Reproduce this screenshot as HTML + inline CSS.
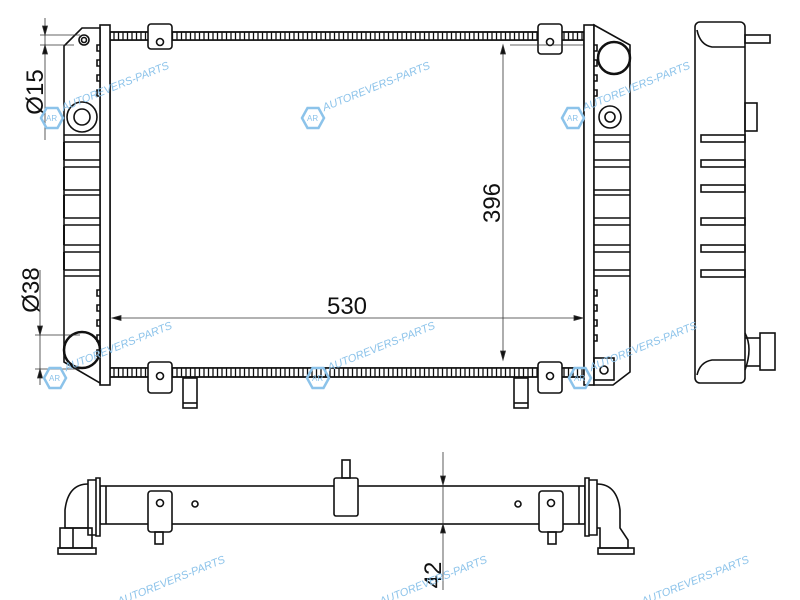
<!DOCTYPE html>
<html><head><meta charset="utf-8"><style>
html,body{margin:0;padding:0;background:#fff;}
svg{display:block;}
text{font-family:"Liberation Sans",sans-serif;}
.wm{fill:#8cc3ea;font-size:11px;font-style:italic;}
</style></head><body>
<svg width="800" height="600" viewBox="0 0 800 600" xmlns="http://www.w3.org/2000/svg">
<defs>
<pattern id="comb" x="0" y="0" width="4.5" height="10" patternUnits="userSpaceOnUse">
<rect x="0" y="0" width="4.5" height="10" fill="#fff"/>
<line x1="1.5" y1="0" x2="1.5" y2="10" stroke="#111" stroke-width="1.3"/>
</pattern>
<g id="wm">
<polygon points="-11,0 -5.5,-10 5.5,-10 11,0 5.5,10 -5.5,10" fill="none" stroke="#8cc3ea" stroke-width="2.5"/>
<text x="-6" y="3" class="wm" style="font-size:8px;font-style:normal">AR</text>
<text x="13" y="-2" class="wm" transform="rotate(-22)">AUTOREVERS-PARTS</text>
</g>
</defs>
<g fill="none" stroke="#111" stroke-width="1.6">
<rect x="110" y="40" width="474" height="328" fill="#fff"/>
<rect x="110" y="32" width="474" height="8" fill="url(#comb)"/>
<rect x="110" y="368" width="474" height="9" fill="url(#comb)"/>
<line x1="110" y1="32" x2="584" y2="32"/>
<line x1="110" y1="377" x2="584" y2="377"/>
<rect x="148" y="24" width="24" height="25" rx="3" fill="#fff"/><circle cx="160" cy="42" r="3.5"/>
<rect x="538" y="24" width="24" height="30" rx="3" fill="#fff"/><circle cx="550" cy="42" r="3.5"/>
<rect x="148" y="362" width="24" height="31" rx="3" fill="#fff"/><circle cx="160" cy="376" r="3.5"/>
<rect x="538" y="362" width="24" height="31" rx="3" fill="#fff"/><circle cx="550" cy="376" r="3.5"/>
<rect x="183" y="378" width="14" height="30" fill="#fff"/><line x1="183" y1="403" x2="197" y2="403"/>
<rect x="514" y="378" width="14" height="30" fill="#fff"/><line x1="514" y1="403" x2="528" y2="403"/>
<rect x="100" y="25" width="10" height="360" fill="#fff"/>
<path d="M82,28 L100,28 L100,383 L64,362 L64,46 Z" fill="#fff"/>
<path d="M100,45 h-3 v6 h3 M100,60 h-3 v6 h3 M100,75 h-3 v6 h3 M100,90 h-3 v6 h3 M100,290 h-3 v6 h3 M100,305 h-3 v6 h3 M100,320 h-3 v6 h3 M100,335 h-3 v6 h3 M100,350 h-3 v6 h3"/>
<circle cx="84" cy="40" r="5"/><circle cx="84" cy="40" r="2.5"/>
<circle cx="82" cy="117" r="15"/><circle cx="82" cy="117" r="8"/>
<circle cx="82" cy="350" r="18" stroke-width="2.5"/>
<path d="M64,135 h36 M64,142 h36 M64,160 h36 M64,167 h36 M64,190 h36 M64,195 h36 M64,218 h36 M64,225 h36 M64,245 h36 M64,252 h36 M64,270 h36 M64,276 h36"/>
<path d="M64,142 v18 M64,167 v23 M64,195 v23 M64,225 v20 M64,252 v18" stroke-width="2"/>
<rect x="584" y="25" width="10" height="360" fill="#fff"/>
<path d="M594,25 L630,45 L630,372 L613,385 L594,385 Z" fill="#fff"/>
<path d="M594,45 h3 v6 h-3 M594,60 h3 v6 h-3 M594,75 h3 v6 h-3 M594,90 h3 v6 h-3 M594,290 h3 v6 h-3 M594,305 h3 v6 h-3 M594,320 h3 v6 h-3 M594,335 h3 v6 h-3"/>
<circle cx="614" cy="58" r="16" stroke-width="2.5"/>
<circle cx="610" cy="117" r="11"/><circle cx="610" cy="117" r="5"/>
<path d="M594,135 h36 M594,142 h36 M594,160 h36 M594,167 h36 M594,190 h36 M594,195 h36 M594,218 h36 M594,225 h36 M594,245 h36 M594,252 h36 M594,270 h36 M594,276 h36"/>
<rect x="594" y="358" width="20" height="22"/><circle cx="604" cy="370" r="4"/>
<rect x="695" y="22" width="50" height="361" rx="5" fill="#fff"/>
<path d="M697,30 Q700,45 712,47 L745,47"/>
<path d="M697,375 Q700,362 712,360 L745,360"/>
<rect x="745" y="35" width="25" height="8"/>
<rect x="745" y="103" width="12" height="28"/>
<rect x="701" y="135" width="44" height="7"/><rect x="701" y="160" width="44" height="7"/><rect x="701" y="185" width="44" height="7"/><rect x="701" y="218" width="44" height="7"/><rect x="701" y="245" width="44" height="7"/><rect x="701" y="270" width="44" height="7"/>
<path d="M745,333 Q753,348 745,370"/>
<rect x="760" y="333" width="15" height="37"/><line x1="745" y1="338" x2="760" y2="338"/><line x1="745" y1="366" x2="760" y2="366"/>
<rect x="100" y="486" width="485" height="38" fill="#fff"/>
<line x1="106" y1="486" x2="106" y2="524"/><line x1="579" y1="486" x2="579" y2="524"/>
<rect x="148" y="491" width="24" height="41" rx="3" fill="#fff"/><circle cx="160" cy="503" r="3.5"/>
<rect x="539" y="491" width="24" height="41" rx="3" fill="#fff"/><circle cx="551" cy="503" r="3.5"/>
<circle cx="195" cy="504" r="3"/><circle cx="518" cy="504" r="3"/>
<rect x="155" y="532" width="8" height="12"/><rect x="548" y="532" width="8" height="12"/>
<rect x="334" y="478" width="24" height="38" rx="2" fill="#fff"/>
<rect x="342" y="460" width="8" height="18"/>
<path d="M100,478 v58 h-4 v-58 Z" fill="#fff"/>
<path d="M96,480 h-8 v55 h8"/>
<path d="M88,484 Q68,484 65,510 L65,528 L88,528"/>
<rect x="60" y="528" width="32" height="20"/><rect x="58" y="548" width="38" height="6"/><line x1="73" y1="528" x2="73" y2="548"/>
<path d="M585,478 v58 h4 v-58 Z" fill="#fff"/>
<path d="M589,480 h8 v55 h-8"/>
<path d="M597,484 Q617,484 620,510 L620,528 L628,540 L628,548 L600,548 L600,528 L597,528"/>
<rect x="598" y="548" width="36" height="6"/>
</g>
<g stroke="#333" stroke-width="0.8" fill="#111">
<line x1="112" y1="318" x2="583" y2="318"/>
<path d="M112,318 l9,-2.5 v5 z M583,318 l-9,-2.5 v5 z"/>
<line x1="503" y1="45" x2="503" y2="360"/>
<path d="M503,45 l-2.5,9 h5 z M503,360 l-2.5,-9 h5 z"/>
<line x1="583" y1="45" x2="510" y2="45"/>
<line x1="45" y1="18" x2="45" y2="140"/>
<line x1="40" y1="35" x2="80" y2="35"/><line x1="40" y1="45" x2="74" y2="45"/>
<path d="M45,35 l-2.5,-9 h5 z M45,45 l-2.5,9 h5 z"/>
<line x1="40" y1="270" x2="40" y2="385"/>
<line x1="35" y1="335" x2="80" y2="335"/><line x1="35" y1="369" x2="80" y2="369"/>
<path d="M40,335 l-2.5,-9 h5 z M40,369 l-2.5,9 h5 z"/>
<line x1="443" y1="452" x2="443" y2="590"/>
<path d="M443,485 l-2.5,-9 h5 z M443,524 l-2.5,9 h5 z"/>
</g>
<g fill="#111" font-size="24">
<text x="347" y="314" text-anchor="middle">530</text>
<text transform="translate(500,203) rotate(-90)" text-anchor="middle">396</text>
<text transform="translate(43,92) rotate(-90)" text-anchor="middle">Ø15</text>
<text transform="translate(39,290) rotate(-90)" text-anchor="middle">Ø38</text>
<text transform="translate(441,575) rotate(-90)" text-anchor="middle">42</text>
</g>
<use href="#wm" x="52" y="118"/>
<use href="#wm" x="313" y="118"/>
<use href="#wm" x="573" y="118"/>
<use href="#wm" x="55" y="378"/>
<use href="#wm" x="318" y="378"/>
<use href="#wm" x="580" y="378"/>
<use href="#wm" x="108" y="612"/>
<use href="#wm" x="370" y="612"/>
<use href="#wm" x="632" y="612"/>
</svg>
</body></html>
